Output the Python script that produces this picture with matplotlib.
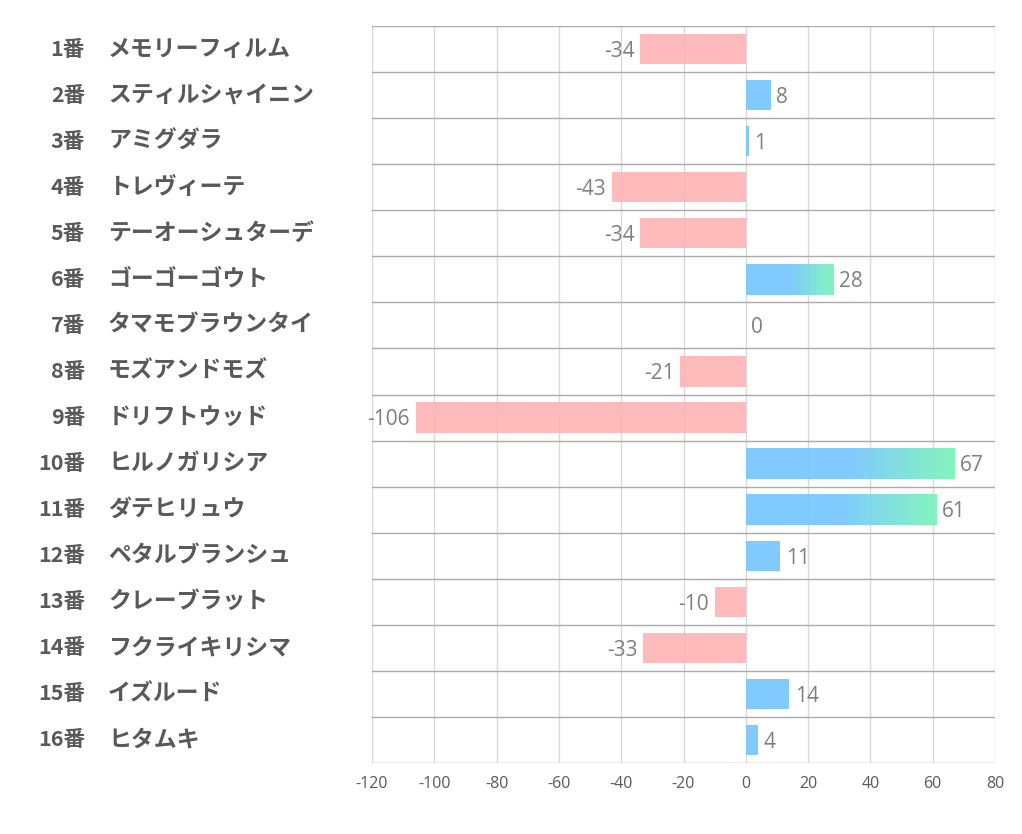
import numpy as np
import matplotlib
matplotlib.use("Agg")
import matplotlib.pyplot as plt

plt.rcParams['font.family'] = ['Noto Sans CJK JP', 'DejaVu Sans']

numbers = ["1番", "2番", "3番", "4番", "5番", "6番", "7番", "8番",
           "9番", "10番", "11番", "12番", "13番", "14番", "15番", "16番"]
names = ["メモリーフィルム", "スティルシャイニン", "アミグダラ", "トレヴィーテ",
         "テーオーシュターデ", "ゴーゴーゴウト", "タマモブラウンタイ", "モズアンドモズ",
         "ドリフトウッド", "ヒルノガリシア", "ダテヒリュウ", "ペタルブランシュ",
         "クレーブラット", "フクライキリシマ", "イズルード", "ヒタムキ"]
values = [-34, 8, 1, -43, -34, 28, 0, -21, -106, 67, 61, 11, -10, -33, 14, 4]
xticks = [-120, -100, -80, -60, -40, -20, 0, 20, 40, 60, 80]

blue = np.array([122, 200, 255]) / 255
green = np.array([125, 245, 185]) / 255
pink = (1.0, 0.70, 0.71)

fig = plt.figure(figsize=(10.22, 8.34), dpi=100)
ax = fig.add_axes([372 / 1022, 1 - 763 / 834, 623 / 1022, 737 / 834])

bar_h = 0.66
for i, v in enumerate(values):
    if v < 0:
        ax.barh(i, v, height=bar_h, color=pink, alpha=0.9, zorder=2)
    elif v > 20:
        # blue bar fading into green over the outer half
        n = 256
        t = np.linspace(0, 1, n)
        f = np.clip((t - 0.5) / 0.5, 0, 1)
        img = blue[None, :] * (1 - f[:, None]) + green[None, :] * f[:, None]
        img = img[None, :, :]
        ax.imshow(img, extent=[0, v, i + bar_h / 2, i - bar_h / 2],
                  aspect='auto', alpha=0.95, zorder=2, interpolation='bilinear')
    elif v > 0:
        ax.barh(i, v, height=bar_h, color=blue, alpha=0.95, zorder=2)

    if v < 0:
        ax.text(v - 1.8, i + 0.05, str(v), ha='right', va='center',
                fontsize=15, color='#7f7f7f', family=['Open Sans', 'DejaVu Sans'])
    else:
        ax.text(v + 1.8, i + 0.05, str(v), ha='left', va='center',
                fontsize=15, color='#7f7f7f', family=['Open Sans', 'DejaVu Sans'])

ax.set_xlim(-120, 80)
ax.set_ylim(15.5, -0.5)

for x in xticks:
    ax.axvline(x, color='#d9d9d9', lw=1, zorder=1)
for k in range(17):
    ax.axhline(k - 0.5, color='#ababab', lw=1, zorder=1)

ax.set_xticks(xticks)
ax.set_xticklabels([str(x) for x in xticks], fontsize=11.5, color='#595959',
                   family=['Open Sans', 'DejaVu Sans'])
ax.tick_params(axis='x', length=0, pad=9)
ax.set_yticks([])
for s in ax.spines.values():
    s.set_visible(False)

# left labels
for i in range(len(names)):
    yfig = 1 - (26 + 46.06 * i + 23) / 834
    fig.text(85 / 1022, yfig, numbers[i], ha='right', va='center',
             fontsize=15.5, fontweight='bold', color='#595959')
    fig.text(108 / 1022, yfig, names[i], ha='left', va='center',
             fontsize=16.5, fontweight='bold', color='#595959')

fig.savefig("out.png", dpi=100)
